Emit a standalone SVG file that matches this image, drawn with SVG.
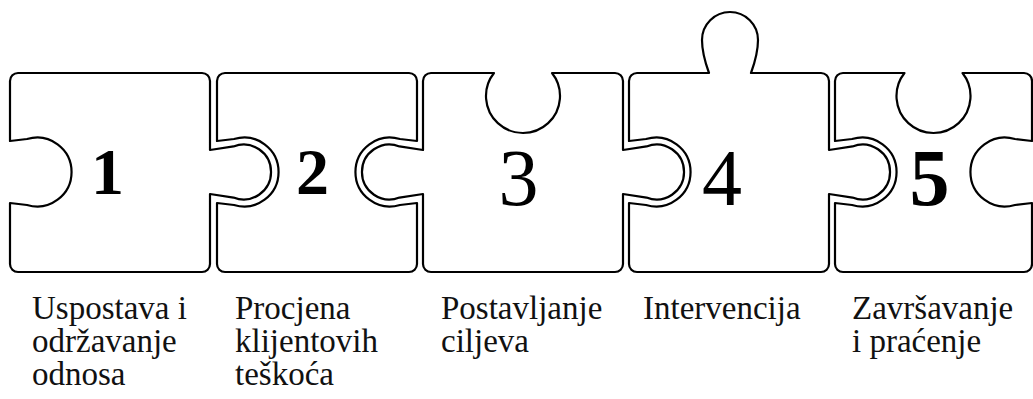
<svg xmlns="http://www.w3.org/2000/svg" width="1033" height="399" viewBox="0 0 1033 399">
<style>
.pc{fill:#fff;stroke:#000;stroke-width:2.2;stroke-linejoin:round}
.num{font-family:'Liberation Serif',serif;text-anchor:middle;fill:#000}
.lbl{font-family:'Liberation Serif',serif;font-size:33px;fill:#111}
</style>
<rect width="1033" height="399" fill="#fff"/>
<g id="piece1">
<path class="pc" d="M 18,73 H 202 A 8 8 0 0 1 210,81 V 150 L 233.5,146.4 A 27.5 27.5 0 1 1 233.5,197.6 L 210,194 V 264 A 8 8 0 0 1 202,272 H 18 A 8 8 0 0 1 10,264 V 203 L 27,205 A 34.5 34.5 0 1 0 27,139 L 10,141 V 81 A 8 8 0 0 1 18,73 Z"/>
<text class="num" x="107.5" y="194" font-size="66" font-weight="bold">1</text>
</g>
<g id="piece2">
<path class="pc" d="M 225,73 H 409 A 8 8 0 0 1 417,81 V 141 L 400,139 A 34.5 34.5 0 1 0 400,205 L 417,203 V 264 A 8 8 0 0 1 409,272 H 225 A 8 8 0 0 1 217,264 V 203 L 234,205 A 34.5 34.5 0 1 0 234,139 L 217,141 V 81 A 8 8 0 0 1 225,73 Z"/>
<text class="num" x="312.5" y="194" font-size="66" font-weight="bold">2</text>
</g>
<g id="piece3">
<path class="pc" d="M 431,73 H 494 A 37 37 0 1 0 552,73 H 615 A 8 8 0 0 1 623,81 V 150 L 646.5,146.4 A 27.5 27.5 0 1 1 646.5,197.6 L 623,194 V 264 A 8 8 0 0 1 615,272 H 431 A 8 8 0 0 1 423,264 V 194 L 399.5,197.6 A 27.5 27.5 0 1 1 399.5,146.4 L 423,150 V 81 A 8 8 0 0 1 431,73 Z"/>
<text class="num" x="518.5" y="205" font-size="80">3</text>
</g>
<g id="piece4">
<path class="pc" d="M 637,73 H 709 C 705,62 702,52 702,40 A 28 28 0 0 1 758,40 C 758,52 755,62 751,73 H 821 A 8 8 0 0 1 829,81 V 150 L 852.5,146.4 A 27.5 27.5 0 1 1 852.5,197.6 L 829,194 V 264 A 8 8 0 0 1 821,272 H 637 A 8 8 0 0 1 629,264 V 203 L 646,205 A 34.5 34.5 0 1 0 646,139 L 629,141 V 81 A 8 8 0 0 1 637,73 Z"/>
<text class="num" x="722" y="205" font-size="80">4</text>
</g>
<g id="piece5">
<path class="pc" d="M 843,73 H 904.5 A 37 37 0 1 0 962.5,73 H 1024 A 8 8 0 0 1 1032,81 V 141 L 1015,139 A 34.5 34.5 0 1 0 1015,205 L 1032,203 V 264 A 8 8 0 0 1 1024,272 H 843 A 8 8 0 0 1 835,264 V 203 L 852,205 A 34.5 34.5 0 1 0 852,139 L 835,141 V 81 A 8 8 0 0 1 843,73 Z"/>
<text class="num" x="929.5" y="205" font-size="80" font-weight="bold">5</text>
</g>
<g id="connectors"/>
<g id="labels" font-family="Liberation Serif, serif">
<text class="lbl" x="32" y="319">Uspostava i</text>
<text class="lbl" x="32" y="352">održavanje</text>
<text class="lbl" x="32" y="385">odnosa</text>
<text class="lbl" x="235" y="319">Procjena</text>
<text class="lbl" x="235" y="352">klijentovih</text>
<text class="lbl" x="235" y="385">teškoća</text>
<text class="lbl" x="441" y="319">Postavljanje</text>
<text class="lbl" x="441" y="352">ciljeva</text>
<text class="lbl" x="643" y="319">Intervencija</text>
<text class="lbl" x="852" y="319">Završavanje</text>
<text class="lbl" x="852" y="352">i praćenje</text>
</g>
</svg>
